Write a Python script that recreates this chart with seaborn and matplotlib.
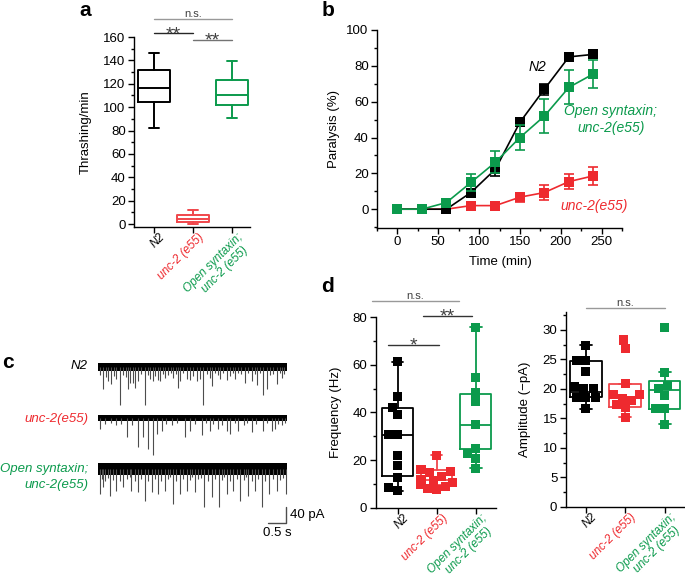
import matplotlib
matplotlib.use("Agg")
import matplotlib.pyplot as plt
import seaborn as sns
import pandas as pd
from matplotlib.ticker import MultipleLocator

sns.set_style("ticks")
plt.rcParams["font.family"] = ["Liberation Sans", "DejaVu Sans"]
plt.rcParams.update({
    "font.size": 9.5,
    "axes.edgecolor": "black",
    "axes.labelcolor": "black",
    "text.color": "black",
    "xtick.color": "black",
    "ytick.color": "black",
    "axes.linewidth": 1.0,
})

BLACK = "#000000"
RED = "#EE2A2F"
GREEN = "#0B9A4C"

# ---- data ----
genotypes = ["N2", "unc-2 (e55)", "Open syntaxin;\nunc-2 (e55)"]
geno_keys = ["N2", "unc2", "open"]
geno_colors = [BLACK, RED, GREEN]

# a: thrashing box summaries
thrash_whislo = [82, 0, 91]
thrash_q1 = [104, 2, 101.5]
thrash_med = [116.5, 4.5, 110.5]
thrash_q3 = [132, 7.5, 123]
thrash_whishi = [146, 12, 139.5]

# b: paralysis time course
times = [0, 30, 60, 90, 120, 150, 180, 210, 240]
para_n2 = [0, 0, 0, 9.3, 22.3, 48.5, 67, 85, 86.4]
para_n2_err = [0, 0, 0, 2, 4, 2, 3, 1, 1]
para_unc2 = [0, 0, 0, 2, 2, 6.7, 9.3, 15.4, 18.6]
para_unc2_err = [0, 0, 0, 1, 1, 2.5, 4, 4, 5]
para_open = [0, 0, 3.7, 14.9, 26.2, 40, 52, 68, 75.5]
para_open_err = [0, 0, 1, 5, 6, 7, 9.5, 9.5, 7.6]

# c: mEPSC traces, events as (time s, amplitude pA)
trace_len = 5.25
n2_events = [(0.06, 20), (0.14, 56), (0.22, 25), (0.28, 35), (0.37, 43), (0.44, 22),
             (0.49, 31), (0.61, 94), (0.70, 20), (0.78, 24), (0.84, 56), (0.89, 40),
             (0.98, 39), (1.03, 52), (1.12, 35), (1.20, 18), (1.31, 94), (1.38, 20),
             (1.44, 31), (1.54, 36), (1.58, 23), (1.68, 32), (1.72, 35), (1.80, 18),
             (1.86, 27), (1.95, 20), (2.04, 16), (2.09, 27), (2.16, 18), (2.23, 52),
             (2.28, 35), (2.37, 16), (2.46, 31), (2.56, 32), (2.65, 23), (2.74, 36),
             (2.83, 31), (2.93, 94), (3.02, 18), (3.11, 27), (3.16, 48), (3.25, 16),
             (3.33, 20), (3.39, 31), (3.48, 16), (3.57, 32), (3.67, 23), (3.75, 14),
             (3.81, 31), (3.90, 16), (3.98, 18), (4.08, 40), (4.18, 16), (4.27, 35),
             (4.35, 18), (4.41, 44), (4.50, 16), (4.59, 69), (4.69, 56), (4.78, 20),
             (4.86, 18), (4.97, 43), (5.05, 16), (5.11, 27), (5.18, 18)]
unc2_events = [(0.06, 27), (0.20, 14), (0.35, 12), (0.50, 16), (0.65, 14), (0.80, 48),
               (0.95, 18), (1.12, 72), (1.26, 48), (1.40, 77), (1.52, 93), (1.63, 39),
               (1.77, 31), (1.90, 14), (2.05, 16), (2.20, 12), (2.42, 48), (2.56, 31),
               (2.70, 14), (2.88, 43), (3.00, 12), (3.11, 31), (3.20, 14), (3.34, 27),
               (3.45, 16), (3.57, 31), (3.67, 39), (3.80, 12), (3.90, 31), (4.05, 16),
               (4.15, 12), (4.27, 35), (4.40, 14), (4.59, 31), (4.70, 12), (4.83, 31),
               (4.92, 27), (5.00, 14), (5.10, 18), (5.20, 12)]
open_events = [(0.05, 62), (0.10, 25), (0.14, 46), (0.20, 30), (0.27, 22), (0.33, 67),
               (0.42, 28), (0.51, 54), (0.60, 30), (0.70, 46), (0.80, 26), (0.88, 20),
               (0.93, 54), (1.02, 30), (1.11, 58), (1.20, 25), (1.30, 79), (1.38, 30),
               (1.49, 58), (1.58, 24), (1.67, 62), (1.76, 30), (1.86, 54), (1.95, 26),
               (2.00, 20), (2.09, 87), (2.18, 30), (2.28, 62), (2.37, 24), (2.46, 54),
               (2.55, 28), (2.60, 20), (2.69, 58), (2.78, 26), (2.86, 22), (2.95, 96),
               (3.05, 30), (3.16, 71), (3.25, 26), (3.36, 96), (3.45, 28), (3.50, 20),
               (3.58, 62), (3.67, 30), (3.76, 54), (3.85, 26), (3.95, 79), (4.05, 28),
               (4.10, 20), (4.18, 67), (4.27, 30), (4.37, 54), (4.45, 26), (4.55, 96),
               (4.65, 30), (4.74, 62), (4.85, 26), (4.97, 54), (5.05, 28), (5.15, 22),
               (5.23, 62)]
scale_pA = 40
scale_s = 0.5

# d: frequency and amplitude
freq_n2 = [61.2, 46.6, 42.1, 39.0, 30.7, 30.7, 22.1, 17.9, 12.7, 8.5, 7.1]
freq_unc2 = [22.1, 16.2, 15.0, 14.6, 13.2, 12.0, 11.2, 10.4, 9.8, 9.0, 8.2, 7.6]
freq_open = [75.6, 54.8, 48.2, 44.4, 34.7, 24.8, 22.8, 20.7, 16.5]
freq_whislo = [7.1, 7.6, 16.5]
freq_q1 = [13.2, 9.6, 24.5]
freq_med = [30.7, 11.7, 34.7]
freq_q3 = [41.9, 16.0, 47.6]
freq_whishi = [61.2, 22.1, 75.6]

amp_n2 = [27.4, 24.9, 24.9, 22.9, 20.4, 20.1, 20.1, 18.6, 18.6, 18.6, 16.6]
amp_unc2 = [28.3, 26.8, 20.9, 19.0, 19.0, 18.4, 18.0, 17.3, 16.9, 15.2]
amp_open = [30.5, 22.7, 20.5, 20.0, 18.9, 16.7, 16.6, 14.0]
amp_whislo = [16.6, 15.2, 14.0]
amp_q1 = [18.6, 16.9, 16.5]
amp_med = [19.4, 18.6, 19.8]
amp_q3 = [24.8, 20.8, 21.4]
amp_whishi = [27.4, 20.9, 22.8]

W, H = 685, 583
fig = plt.figure(figsize=(W / 100, H / 100), dpi=100)


def px_axes(left, top, right, bottom):
    return fig.add_axes([left / W, 1 - bottom / H, (right - left) / W, (bottom - top) / H])


def style_axes(ax):
    sns.despine(ax=ax)
    ax.tick_params(which="major", direction="out", length=4, width=1, labelsize=9.5, pad=2)
    ax.tick_params(which="minor", direction="out", length=2.5, width=1)


def cat_labels(ax, fs=8.5):
    # rotated, coloured category labels; lines of a two-line label drawn one by one
    ax.set_xticks([0, 1, 2])
    ax.set_xticklabels([])
    ax.tick_params(axis="x", which="minor", length=0)
    trans = ax.get_xaxis_transform()
    line_offsets = [(3.5, -3.0), (6.9, -12.6)]
    for i, (lab, c) in enumerate(zip(genotypes, geno_colors)):
        for k, line in enumerate(lab.split("\n")):
            ax.annotate(line, xy=(i, 0), xycoords=trans,
                        xytext=line_offsets[k], textcoords="offset points",
                        rotation=45, rotation_mode="anchor", ha="right", va="top",
                        style="italic", color=c, fontsize=fs, annotation_clip=False)


def boxes(ax, lo, q1, med, q3, hi, colors, width, capw, lw=1.3):
    for i in range(3):
        st = dict(whislo=lo[i], q1=q1[i], med=med[i], q3=q3[i], whishi=hi[i], fliers=[])
        c = colors[i]
        ax.bxp([st], positions=[i], widths=width, capwidths=capw, showfliers=False,
               boxprops=dict(color=c, lw=lw), medianprops=dict(color=c, lw=lw),
               whiskerprops=dict(color=c, lw=lw), capprops=dict(color=c, lw=lw),
               manage_ticks=False, zorder=2)


def sig(ax, x0, x1, y, text, lcolor, fs, dy):
    ax.plot([x0, x1], [y, y], color=lcolor, lw=1, clip_on=False)
    ax.annotate(text, xy=((x0 + x1) / 2, y), xytext=(0, dy), textcoords="offset points",
                ha="center", va="baseline", fontsize=fs, color="0.25", annotation_clip=False)


# ---------------- panel a ----------------
ax_a = px_axes(134, 37, 250, 227)
boxes(ax_a, thrash_whislo, thrash_q1, thrash_med, thrash_q3, thrash_whishi,
      [BLACK, "#F0464B", GREEN], 0.82, 0.26, lw=1.4)
ax_a.set_xlim(-0.51, 2.46)
ax_a.set_ylim(-2.5, 160)
ax_a.yaxis.set_major_locator(MultipleLocator(20))
ax_a.yaxis.set_minor_locator(MultipleLocator(10))
style_axes(ax_a)
cat_labels(ax_a)
ax_a.set_ylabel("Thrashing/min", fontsize=9.5)
ax_a.yaxis.set_label_coords(-0.36, 0.5)
sig(ax_a, 0, 2, 175, "n.s.", "0.6", 8, 1.5)
sig(ax_a, 0, 1, 163, "**", "0.15", 14, -4)
sig(ax_a, 1, 2, 157.4, "**", "0.45", 14, -4)

# ---------------- panel b ----------------
ax_b = px_axes(377, 30, 622, 228)
series = [(para_unc2, para_unc2_err, RED, 2), (para_n2, para_n2_err, BLACK, 3),
          (para_open, para_open_err, GREEN, 4)]
for vals, err, c, z in series:
    ax_b.errorbar(times, vals, yerr=err, fmt="none", ecolor=c, elinewidth=1.2,
                  capsize=3.5, capthick=1.2, zorder=z)
    sns.lineplot(x=times, y=vals, ax=ax_b, color=c, marker="s", markersize=6.5,
                 markeredgewidth=0, linewidth=1.2, zorder=z)
ax_b.set_xlim(-25, 275)
ax_b.set_ylim(-10.5, 100)
ax_b.xaxis.set_major_locator(MultipleLocator(50))
ax_b.xaxis.set_minor_locator(MultipleLocator(25))
ax_b.yaxis.set_major_locator(MultipleLocator(20))
ax_b.yaxis.set_minor_locator(MultipleLocator(10))
style_axes(ax_b)
ax_b.set_xlabel("Time (min)", fontsize=9.5)
ax_b.xaxis.set_label_coords(0.503, -0.14)
ax_b.set_ylabel("Paralysis (%)", fontsize=9.5)
ax_b.yaxis.set_label_coords(-0.15, 0.5)
ax_b.text(171, 79.3, "N2", style="italic", fontsize=10, ha="center", va="center")
ax_b.text(261.5, 50, "Open syntaxin;\nunc-2(e55)", style="italic", fontsize=10,
          ha="center", va="center", color=GREEN, multialignment="center", clip_on=False)
ax_b.text(241, 1.7, "unc-2(e55)", style="italic", fontsize=10, ha="center",
          va="center", color=RED, clip_on=False)

# ---------------- panel c ----------------
ax_c = px_axes(90, 355, 300, 540)
ax_c.set_xlim(-0.222, 5.611)
ax_c.set_ylim(-432.5, 30)
ax_c.axis("off")
trace_sets = [(n2_events, 0, 11), (unc2_events, -128, 8), (open_events, -255, 14)]
for events, off, hw in trace_sets:
    ev = pd.DataFrame(events, columns=["t", "amp"])
    ax_c.fill_between([0, trace_len], off - hw, off + hw, color="black", lw=0)
    ax_c.vlines(ev["t"], off - ev["amp"], off, color="0.3", lw=0.8)
# scale bar
sx = 5.22
sy = -390
ax_c.plot([sx - scale_s, sx, sx], [sy, sy, sy + scale_pA], color="0.3", lw=1)
ax_c.text(sx + 0.1, sy + scale_pA / 2, f"{scale_pA} pA", fontsize=9.5, va="center", ha="left")
ax_c.text(sx - scale_s / 2, sy - 10, f"{scale_s} s", fontsize=9.5, va="top", ha="center")

fig.text(88 / W, 1 - 366 / H, "N2", style="italic", fontsize=9.5, ha="right", va="center")
fig.text(88 / W, 1 - 419 / H, "unc-2(e55)", style="italic", fontsize=9.5, ha="right",
         va="center", color=RED)
fig.text(88 / W, 1 - 477 / H, "Open syntaxin;\nunc-2(e55)", style="italic", fontsize=9.5,
         ha="right", va="center", color=GREEN, multialignment="right", linespacing=1.35)

# ---------------- panel d ----------------
palette = dict(zip(geno_keys, [BLACK, RED, GREEN]))


def long_df(a, b, c):
    return pd.DataFrame({
        "genotype": [geno_keys[0]] * len(a) + [geno_keys[1]] * len(b) + [geno_keys[2]] * len(c),
        "value": a + b + c,
    })


ax_f = px_axes(375.7, 317, 496, 507.7)
boxes(ax_f, freq_whislo, freq_q1, freq_med, freq_q3, freq_whishi,
      [BLACK, "#F0464B", GREEN], 0.8, 0.3)
sns.swarmplot(data=long_df(freq_n2, freq_unc2, freq_open), x="genotype", y="value",
              hue="genotype", order=geno_keys, hue_order=geno_keys, palette=palette,
              marker="s", size=6.5, linewidth=0, ax=ax_f, legend=False, zorder=3,
              warn_thresh=1)
ax_f.set_xlim(-0.56, 2.52)
ax_f.set_ylim(0, 80)
ax_f.yaxis.set_major_locator(MultipleLocator(20))
ax_f.yaxis.set_minor_locator(MultipleLocator(10))
style_axes(ax_f)
cat_labels(ax_f)
ax_f.set_xlabel("")
ax_f.set_ylabel("Frequency (Hz)", fontsize=9.5)
ax_f.yaxis.set_label_coords(-0.28, 0.5)
sig(ax_f, -0.66, 1.58, 86.8, "n.s.", "0.6", 8, 1.5)
sig(ax_f, 0.64, 1.91, 80.5, "**", "0.2", 14, -4)
sig(ax_f, -0.25, 1.05, 68.2, "*", "0.2", 14, -4)

ax_m = px_axes(565.7, 312.3, 684, 506.7)
boxes(ax_m, amp_whislo, amp_q1, amp_med, amp_q3, amp_whishi,
      [BLACK, "#F0464B", GREEN], 0.8, 0.3)
sns.swarmplot(data=long_df(amp_n2, amp_unc2, amp_open), x="genotype", y="value",
              hue="genotype", order=geno_keys, hue_order=geno_keys, palette=palette,
              marker="s", size=6.5, linewidth=0, ax=ax_m, legend=False, zorder=3,
              warn_thresh=1)
ax_m.set_xlim(-0.51, 2.49)
ax_m.set_ylim(0, 33)
ax_m.yaxis.set_major_locator(MultipleLocator(5))
ax_m.yaxis.set_minor_locator(MultipleLocator(2.5))
style_axes(ax_m)
cat_labels(ax_m)
ax_m.set_xlabel("")
ax_m.set_ylabel("Amplitude (\u2212pA)", fontsize=9.5)
ax_m.yaxis.set_label_coords(-0.29, 0.5)
sig(ax_m, 0, 2, 33.7, "n.s.", "0.6", 8, 1.5)

# panel letters
for x, y, s in [(85, 10, "a"), (328, 10, "b"), (7.5, 362, "c"), (328, 286, "d")]:
    fig.text(x / W, 1 - y / H, s, fontsize=15, fontweight="bold", ha="center", va="center")

fig.savefig("out.png", dpi=100)
